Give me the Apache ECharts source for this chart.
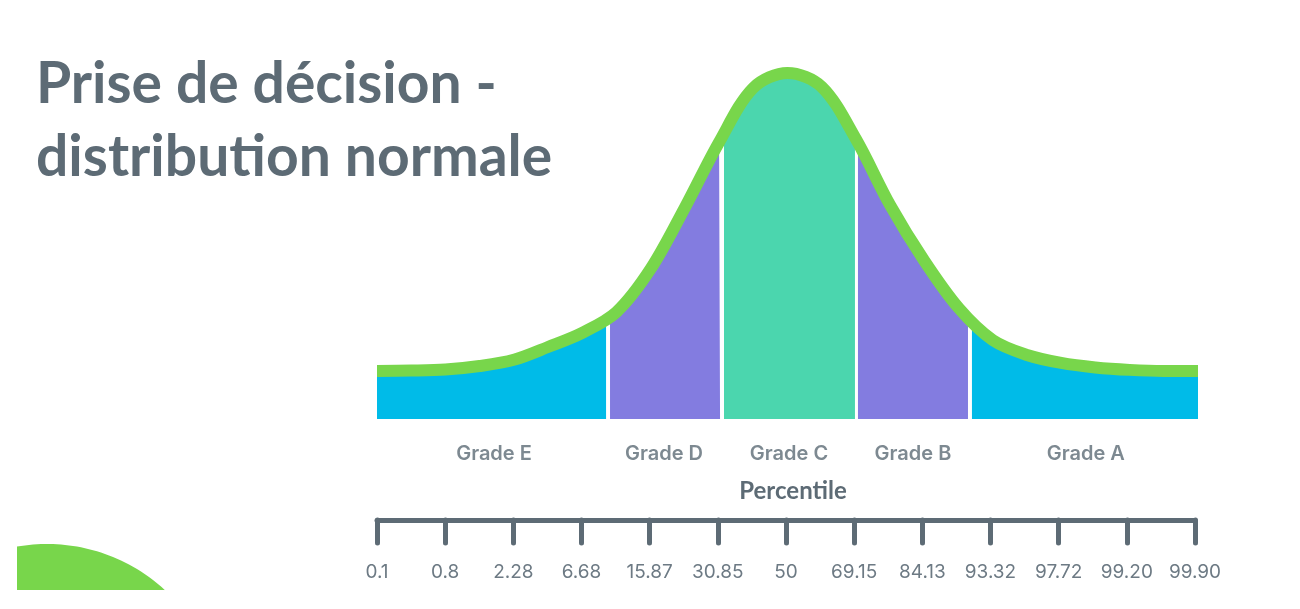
<!DOCTYPE html>
<html>
<head>
<meta charset="utf-8">
<style>html,body{margin:0;padding:0;background:#fff}#main{width:1300px;height:609px}</style>
<script src="https://cdn.jsdelivr.net/npm/echarts@6/dist/echarts.min.js"></script>
</head>
<body>
<div id="main"></div>
<script>
// curve: x in sigma, y as % of the peak height
var curveX = [-3, -2.75, -2.5, -2.25, -2, -1.75, -1.5, -1.25, -1, -0.75, -0.5, -0.25, 0,
  0.25, 0.5, 0.75, 1, 1.25, 1.5, 1.75, 2, 2.25, 2.5, 2.75, 3];
var curveY = [13.9, 14, 14.3, 15.3, 17.1, 20.8, 24.9, 30.9, 43.4, 61.1, 80, 95.7, 100,
  96, 80.9, 61.8, 45.7, 32.1, 22.8, 18.5, 16.2, 14.9, 14.2, 13.9, 13.9];

var gradeNames = ['Grade E', 'Grade D', 'Grade C', 'Grade B', 'Grade A'];
var gradeCentres = [-2.145, -0.903, 0.011, 0.917, 2.18];
var gradeFrom = [-3, -1.297, -0.464, 0.515, 1.348];
var gradeFromY = [13.9, 29.8, 82.7, 79.8, 27.7];
var gradeTo = [-1.326, -0.493, 0.493, 1.319, 3];
var gradeToY = [28.6, 80.3, 81.5, 28.9, 13.9];
var gradeColors = ['#00bbe8', '#837ce0', '#4bd6ae', '#837ce0', '#00bbe8'];

var percentiles = ['0.1', '0.8', '2.28', '6.68', '15.87', '30.85', '50', '69.15', '84.13', '93.32', '97.72', '99.20', '99.90'];

var curve = curveX.map(function (x, i) { return [x, curveY[i]]; });

var series = gradeNames.map(function (name, i) {
  var inside = curve.filter(function (p) { return p[0] > gradeFrom[i] && p[0] < gradeTo[i]; });
  return {
    name: name,
    type: 'line',
    symbol: 'none',
    lineStyle: { width: 0 },
    areaStyle: { color: gradeColors[i], opacity: 1 },
    data: [[gradeFrom[i], gradeFromY[i]]].concat(inside, [[gradeTo[i], gradeToY[i]]])
  };
});

series.push({
  type: 'line',
  symbol: 'none',
  smooth: 0.33,
  clip: false,
  lineStyle: { color: '#78d64b', width: 12 },
  data: curve
});

series.push({
  type: 'scatter',
  symbolSize: 0,
  clip: false,
  label: {
    show: true,
    position: 'inside',
    formatter: '{b}',
    color: '#5d6b75',
    fontFamily: 'Inter',
    fontSize: 20,
    fontWeight: 600
  },
  data: gradeNames.map(function (name, i) {
    return { name: name, value: [gradeCentres[i], -10] };
  })
});

// the green circle cut off in the bottom left corner
var blob = [[17, 590]];
for (var bx = 17; bx <= 165; bx += 4) {
  blob.push([bx, 718 - Math.sqrt(174 * 174 - (bx - 47) * (bx - 47))]);
}
blob.push([165, 590]);

var myChart = echarts.init(document.getElementById('main'));

var option = {
  animation: false,
  backgroundColor: '#fff',
  title: {
    text: 'Prise de décision -\ndistribution normale',
    left: 31,
    top: 43,
    textStyle: {
      color: '#5d6b75',
      fontFamily: 'Lato',
      fontSize: 57,
      fontWeight: 'bold',
      lineHeight: 73
    }
  },
  grid: [
    { left: 377, width: 821, top: 73, height: 346 },
    { left: 377, width: 818, top: 519, height: 1 }
  ],
  xAxis: [
    { gridIndex: 0, type: 'value', min: -3, max: 3, show: false },
    {
      gridIndex: 1,
      type: 'value',
      min: -3,
      max: 3,
      interval: 0.5,
      name: 'Percentile',
      nameLocation: 'middle',
      nameGap: -41,
      nameTextStyle: { color: '#5d6b75', fontFamily: 'Lato', fontSize: 24, fontWeight: 'bold', padding: [0, 0, 0, 14] },
      splitLine: { show: false },
      axisLine: { show: true, onZero: false, lineStyle: { color: '#5d6b75', width: 5, cap: 'round' } },
      axisTick: { show: true, length: 23, lineStyle: { color: '#5d6b75', width: 5, cap: 'round' } },
      axisLabel: {
        show: true,
        margin: 43,
        color: '#6d7a84',
        fontFamily: 'Inter',
        fontSize: 19,
        showMinLabel: true,
        showMaxLabel: true,
        hideOverlap: false,
        formatter: function (v) { return percentiles[Math.round((v + 3) * 2)]; }
      }
    }
  ],
  yAxis: [
    { gridIndex: 0, type: 'value', min: 0, max: 100, show: false },
    { gridIndex: 1, type: 'value', min: 0, max: 1, show: false }
  ],
  graphic: [{
    type: 'polygon',
    silent: true,
    shape: { points: blob },
    style: { fill: '#78d64b' }
  }],
  series: series
};

myChart.setOption(option);
</script>
</body>
</html>
